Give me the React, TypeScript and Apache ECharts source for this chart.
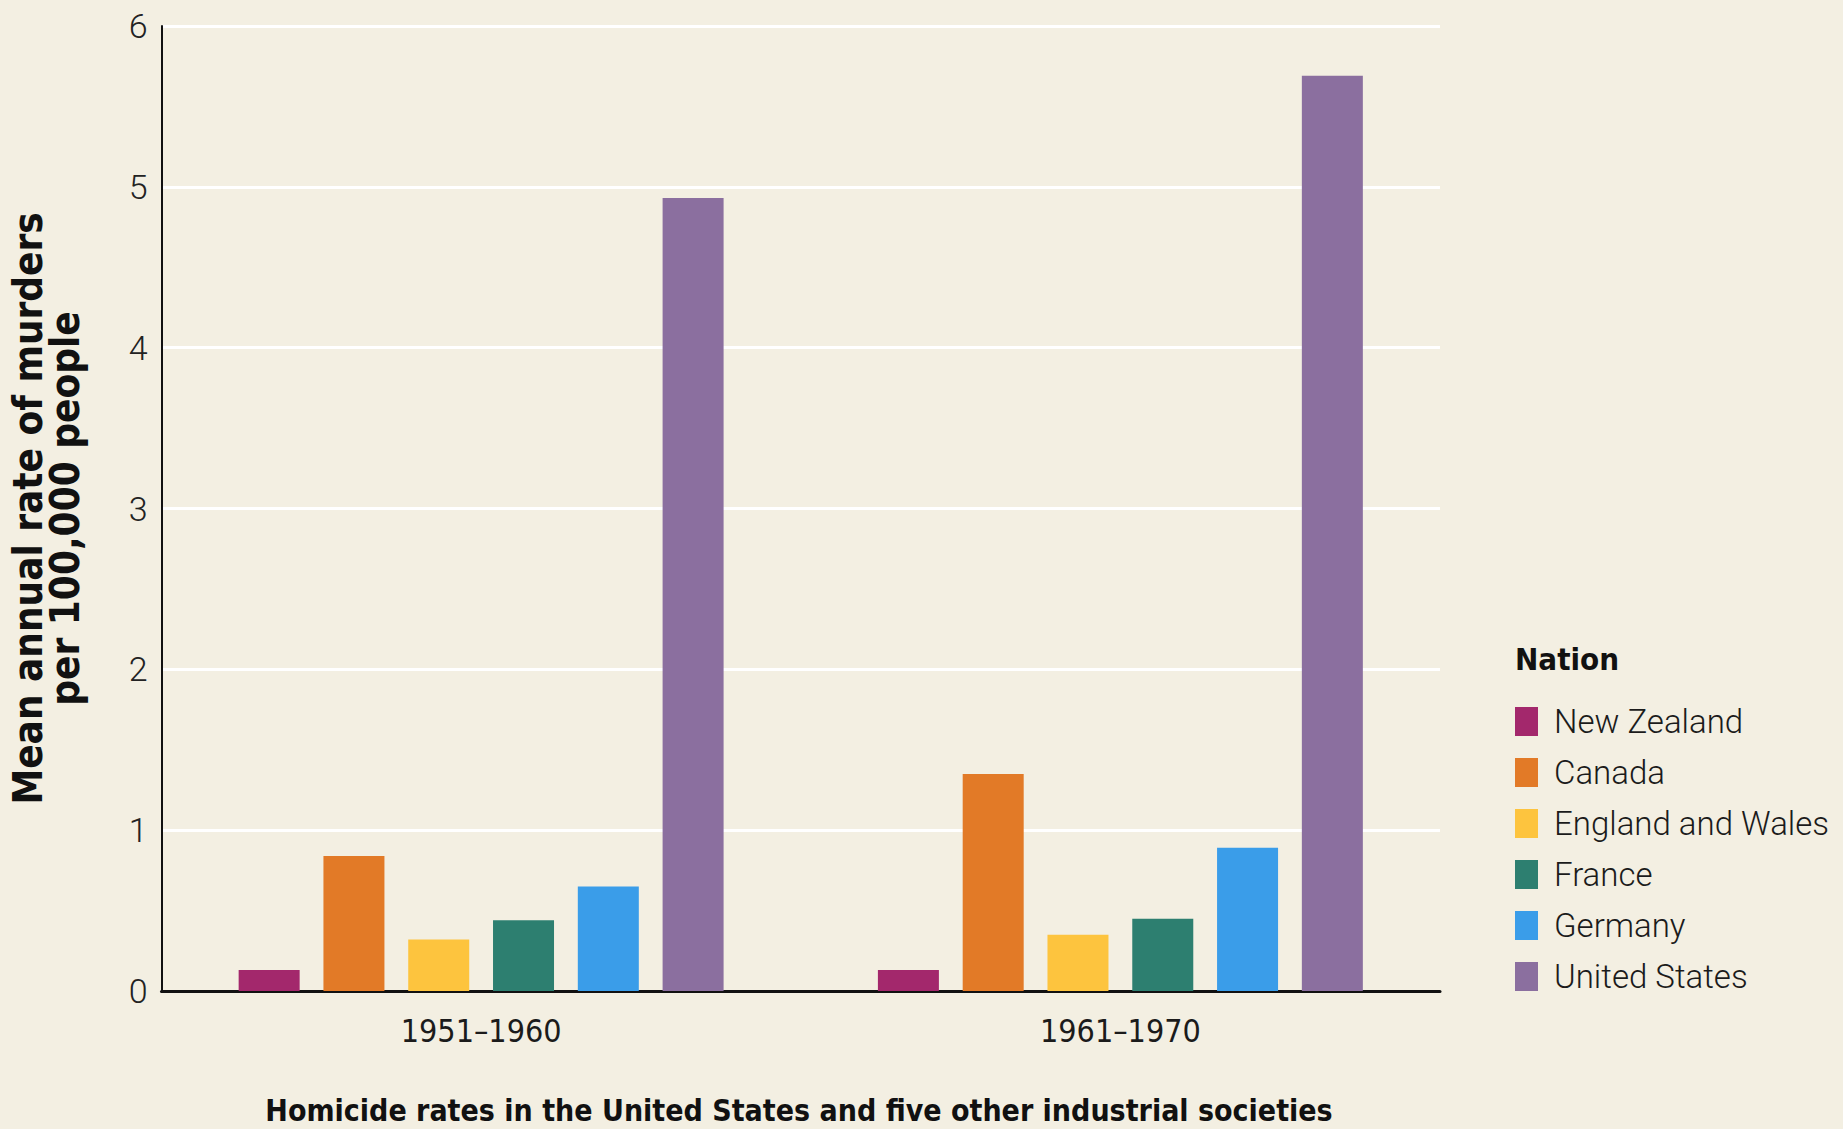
import React, { useEffect, useRef } from "react";
import * as echarts from "echarts";

const periods = ["1951–1960", "1961–1970"];
const nations = ["New Zealand", "Canada", "England and Wales", "France", "Germany", "United States"];
const nationColors = ["#a3286c", "#e27a27", "#fdc43e", "#2d7f70", "#3a9de9", "#8b6f9f"];
const rate1951 = [0.13, 0.84, 0.32, 0.44, 0.65, 4.93];
const rate1961 = [0.13, 1.35, 0.35, 0.45, 0.89, 5.69];
const yTicks = [0, 1, 2, 3, 4, 5, 6];

const chartTitle = "Homicide rates in the United States and five other industrial societies";
const yName = "Mean annual rate of murders\nper 100,000 people";
const legendTitle = "Nation";

const NARROW = "'Liberation Sans Narrow', 'DejaVu Sans Condensed', 'Roboto Condensed', Roboto, sans-serif";
const LIGHT = "Roboto, 'Liberation Sans', sans-serif";

export default function App() {
  const ref = useRef<HTMLDivElement>(null);
  useEffect(() => {
    document.body.style.margin = "0";
    const chart = echarts.init(ref.current!, null, { renderer: "svg" });
    const byNation = nations.map((_, i) => [rate1951[i], rate1961[i]]);
    chart.setOption({
      animation: false,
      backgroundColor: "#f3efe2",
      grid: { left: 161, right: 403, top: 26, bottom: 138, containLabel: false },
      legend: {
        orient: "vertical",
        left: 1515,
        top: 705,
        itemWidth: 23,
        itemHeight: 29,
        itemGap: 18,
        padding: 0,
        icon: "rect",
        data: nations,
        textStyle: {
          fontSize: 33,
          lineHeight: 29,
          color: "#1b1b1b",
          fontFamily: LIGHT,
          fontWeight: 300,
          padding: [0, 0, 0, 11],
        },
      },
      xAxis: {
        type: "category",
        data: periods,
        axisLine: { show: true, lineStyle: { color: "#111", width: 3 } },
        axisTick: { show: false },
        axisLabel: { fontSize: 32, color: "#1b1b1b", fontFamily: NARROW, margin: 24 },
        splitLine: { show: false },
      },
      yAxis: {
        type: "value",
        min: 0,
        max: 6,
        interval: 1,
        name: yName,
        nameLocation: "middle",
        nameRotate: 90,
        nameGap: 78,
        nameTextStyle: { fontSize: 40, fontWeight: "bold", color: "#111", fontFamily: NARROW, lineHeight: 37 },
        axisLine: { show: true, lineStyle: { color: "#111", width: 2 } },
        axisTick: { show: false },
        axisLabel: {
          fontSize: 34,
          color: "#222",
          fontFamily: LIGHT,
          fontWeight: 300,
          margin: 14,
          formatter: (v: number) => (yTicks.includes(v) ? String(v) : ""),
        },
        splitLine: { show: true, lineStyle: { color: "#ffffff", width: 3 } },
      },
      series: nations.map((n, i) => ({
        name: n,
        type: "bar",
        data: byNation[i],
        barWidth: 61,
        barGap: "39%",
        itemStyle: { color: nationColors[i] },
      })),
      graphic: [
        {
          type: "text",
          x: 799,
          y: 1110,
          style: {
            text: chartTitle,
            fontSize: 30,
            fontWeight: "bold",
            fontFamily: NARROW,
            fill: "#111",
            textAlign: "center",
            textVerticalAlign: "middle",
          },
        },
        {
          type: "text",
          x: 1515,
          y: 659,
          style: {
            text: legendTitle,
            fontSize: 31,
            fontWeight: "bold",
            fontFamily: NARROW,
            fill: "#111",
            textAlign: "left",
            textVerticalAlign: "middle",
          },
        },
      ],
    });
    return () => chart.dispose();
  }, []);
  return <div ref={ref} style={{ position: "fixed", left: 0, top: 0, width: 1843, height: 1129 }} />;
}
